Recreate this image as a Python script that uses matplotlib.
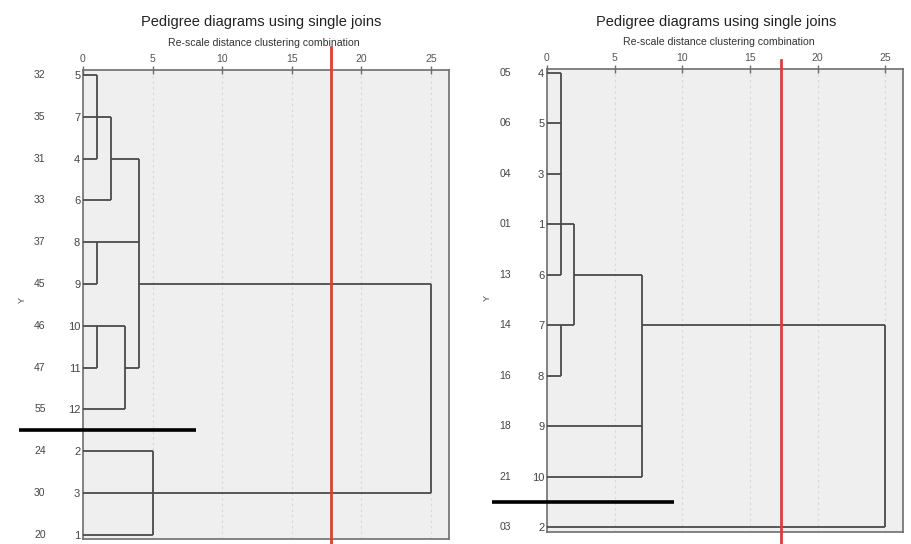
import matplotlib

matplotlib.use("Agg")
import matplotlib.pyplot as plt

plt.rcParams["font.family"] = ["Liberation Sans", "DejaVu Sans"]

TITLE = "Pedigree diagrams using single joins"
SUBTITLE = "Re-scale distance clustering combination"
X_TICKS = [0, 5, 10, 15, 20, 25]

# left diagram: leaves from top to bottom
left_leaf_ids = ["5", "7", "4", "6", "8", "9", "10", "11", "12", "2", "3", "1"]
left_case_labels = ["32", "35", "31", "33", "37", "45", "46", "47", "55", "24", "30", "20"]
# horizontal links: (row, distance from, distance to)
left_hlinks = [
    (0, 0, 1), (1, 0, 2), (2, 0, 1), (2, 2, 4), (3, 0, 2), (4, 0, 4),
    (5, 0, 1), (5, 4, 25), (6, 0, 3), (7, 0, 1), (7, 3, 4), (8, 0, 3),
    (9, 0, 5), (10, 0, 25), (11, 0, 5),
]
# vertical links: (distance, row from, row to)
left_vlinks = [
    (1, 0, 2), (2, 1, 3), (4, 2, 7), (1, 4, 5), (1, 6, 7), (3, 6, 8),
    (25, 5, 10), (5, 9, 11),
]
left_cut_distance = 17.8
left_split_row = 8.5

# right diagram
right_leaf_ids = ["4", "5", "3", "1", "6", "7", "8", "9", "10", "2"]
right_case_labels = ["05", "06", "04", "01", "13", "14", "16", "18", "21", "03"]
right_hlinks = [
    (0, 0, 1), (1, 0, 1), (2, 0, 1), (3, 0, 2), (4, 0, 1), (4, 2, 7),
    (5, 0, 2), (5, 7, 25), (6, 0, 1), (7, 0, 7), (8, 0, 7), (9, 0, 25),
]
right_vlinks = [(1, 0, 4), (1, 5, 6), (2, 3, 5), (7, 4, 8), (25, 5, 9)]
right_cut_distance = 17.3
right_split_row = 8.5

LINK_COLOR = "#4a4a4a"
FRAME_COLOR = "#6e6e6e"
TEXT_COLOR = "#444444"


def draw_panel(fig, rect, leaf_ids, case_labels, hlinks, vlinks, cut, split_row,
               ylim, red_span, split_span, title_xy, sub_xy, ylabel_xy):
    ax = fig.add_axes(rect)
    ax.set_facecolor("#efefef")
    n = len(leaf_ids)

    for x in X_TICKS[1:]:
        ax.axvline(x, color="#d6d6d6", lw=0.8, ls=(0, (2, 3)), zorder=1)

    for row, x0, x1 in hlinks:
        ax.plot([x0, x1], [row, row], color=LINK_COLOR, lw=1.3, zorder=3,
                solid_capstyle="butt")
    for x, r0, r1 in vlinks:
        ax.plot([x, x], [r0, r1], color=LINK_COLOR, lw=1.3, zorder=3,
                solid_capstyle="butt")

    ax.axvline(cut, ymin=red_span[0], ymax=red_span[1], color="#d9403a",
               lw=2.0, clip_on=False, zorder=5)
    ax.plot(split_span, [split_row, split_row], color="black", lw=2.6,
            clip_on=False, zorder=6, solid_capstyle="butt")

    ax.set_xlim(0, 26.3)
    ax.set_ylim(*ylim)

    ax.xaxis.tick_top()
    ax.set_xticks(X_TICKS)
    ax.tick_params(axis="x", direction="inout", length=6, width=1.0,
                   colors=FRAME_COLOR, labelsize=7.5, labelcolor="#555555", pad=1)
    ax.set_yticks(range(n))
    ax.set_yticklabels(leaf_ids)
    ax.tick_params(axis="y", length=0, labelsize=8, labelcolor=TEXT_COLOR, pad=2)

    for row, label in enumerate(case_labels):
        ax.text(-3.1, row, label, ha="center", va="center", fontsize=7.5,
                color=TEXT_COLOR, clip_on=False)

    for spine in ax.spines.values():
        spine.set_color(FRAME_COLOR)
        spine.set_linewidth(1.2)

    fig.text(*title_xy, TITLE, ha="center", va="center", fontsize=10.5, color="#222222")
    fig.text(*sub_xy, SUBTITLE, ha="center", va="center", fontsize=7.6, color="#333333")
    fig.text(*ylabel_xy, "Y", rotation=90, ha="center", va="center", fontsize=6.5,
             color=TEXT_COLOR)
    return ax


fig = plt.figure(figsize=(9.12, 5.44), dpi=100)
W, H = 912, 544

draw_panel(
    fig,
    [83 / W, 1 - 539 / H, (449 - 83) / W, (539 - 70) / H],
    left_leaf_ids, left_case_labels, left_hlinks, left_vlinks,
    left_cut_distance, left_split_row,
    ylim=(11.1, -0.12), red_span=(-0.011, 1.049), split_span=(-4.6, 8.1),
    title_xy=(261 / W, 1 - 22 / H), sub_xy=(264 / W, 1 - 43 / H),
    ylabel_xy=(22 / W, 1 - 300 / H),
)
draw_panel(
    fig,
    [547 / W, 1 - 532 / H, (903 - 547) / W, (532 - 69) / H],
    right_leaf_ids, right_case_labels, right_hlinks, right_vlinks,
    right_cut_distance, right_split_row,
    ylim=(9.1, -0.08), red_span=(-0.026, 1.02), split_span=(-4.1, 9.4),
    title_xy=(716 / W, 1 - 22 / H), sub_xy=(719 / W, 1 - 42 / H),
    ylabel_xy=(487 / W, 1 - 298 / H),
)

fig.savefig("out.png", dpi=100, facecolor="white")
